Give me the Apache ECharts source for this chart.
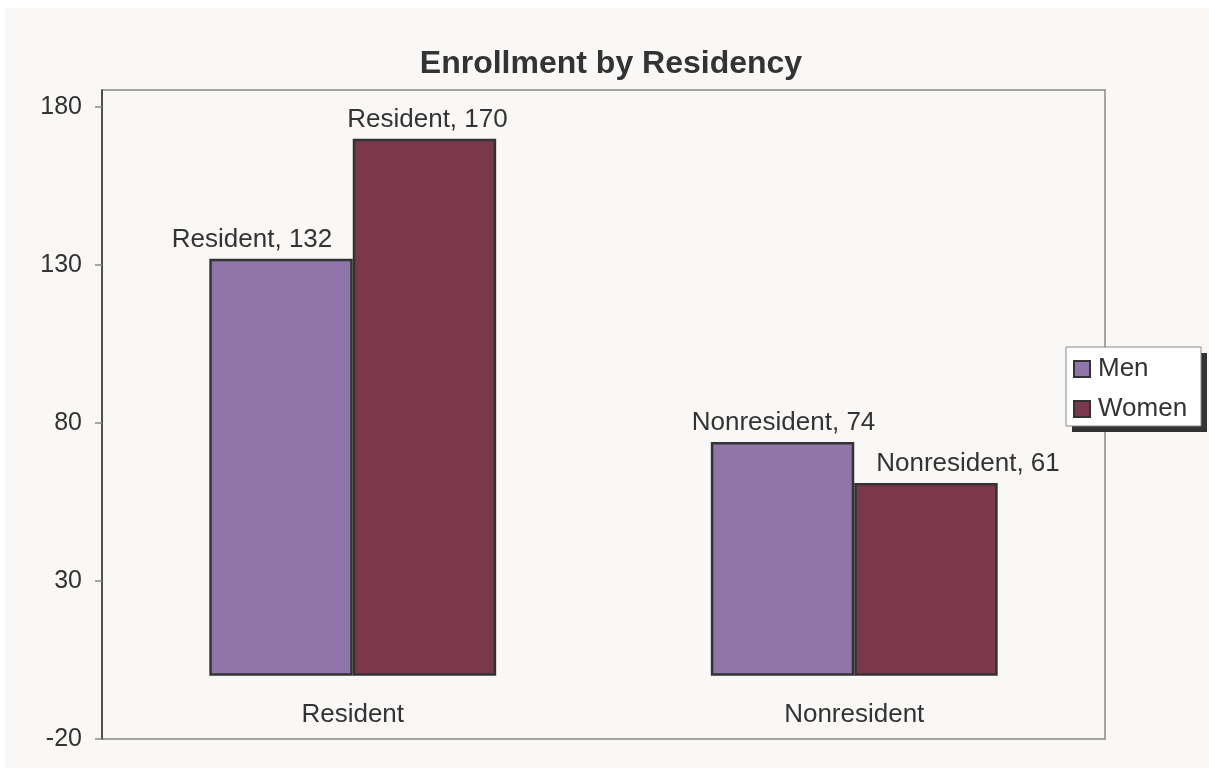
<!DOCTYPE html>
<html>
<head>
<meta charset="utf-8">
<script src="https://cdn.jsdelivr.net/npm/echarts@6/dist/echarts.min.js"></script>
<style>
html,body{margin:0;padding:0;background:#ffffff;}
#c{width:1209px;height:768px;}
</style>
</head>
<body>
<div id="c"></div>
<script>
const categories = ['Resident', 'Nonresident'];
const seriesNames = ['Men', 'Women'];
const menValues = [132, 74];
const womenValues = [170, 61];
const yTicks = [-20, 30, 80, 130, 180];

const labelOffsets = {
  Men: [[-29, 0], [1, 0]],
  Women: [[3, 0], [42, 0]]
};
const colors = { Men: '#9075a8', Women: '#7b374c' };
const FONT = "'Liberation Sans', Arial, sans-serif";

function buildData(name, values) {
  return values.map((v, i) => ({
    value: v,
    label: { offset: labelOffsets[name][i] }
  }));
}

const chart = echarts.init(document.getElementById('c'));
chart.setOption({
  backgroundColor: '#ffffff',
  animation: false,
  graphic: [
    { type: 'rect', z: -10, silent: true, shape: { x: 5, y: 8, width: 1204, height: 760 }, style: { fill: '#f9f8f6' } },
    { type: 'rect', z: 10, silent: true, shape: { x: 1072, y: 353, width: 135, height: 79 }, style: { fill: '#333333' } },
    { type: 'rect', z: 11, silent: true, shape: { x: 1066, y: 347, width: 135, height: 79 }, style: { fill: '#ffffff', stroke: '#888888', lineWidth: 1 } }
  ],
  title: {
    text: 'Enrollment by Residency',
    left: 606,
    textAlign: 'center',
    top: 43,
    textStyle: { fontFamily: FONT, fontSize: 32, fontWeight: 'bold', color: '#333333' }
  },
  legend: {
    data: seriesNames,
    orient: 'vertical',
    left: 1066,
    top: 347,
    z: 20,
    padding: [9, 10, 6, 7],
    itemGap: 14,
    itemWidth: 16,
    itemHeight: 16,
    itemStyle: { borderColor: '#333333', borderWidth: 2 },
    textStyle: { fontFamily: FONT, fontSize: 26, lineHeight: 26, color: '#333333', padding: [0, 0, 0, 3] },
    icon: 'rect'
  },
  grid: {
    left: 102, right: 104, top: 90, bottom: 29,
    show: true, borderColor: '#888888', borderWidth: 1.5, backgroundColor: 'transparent'
  },
  xAxis: {
    type: 'category',
    data: categories,
    axisLine: { show: false },
    axisTick: { show: false },
    axisLabel: { fontFamily: FONT, fontSize: 26, color: '#333333', margin: -37 }
  },
  yAxis: {
    type: 'value',
    min: yTicks[0],
    max: 185.4,
    interval: 50,
    splitLine: { show: false },
    axisLine: { show: true, lineStyle: { color: '#333333', width: 1.5 } },
    axisTick: { show: true, length: 7, lineStyle: { color: '#888888', width: 1.5 } },
    axisLabel: { showMaxLabel: false, fontFamily: FONT, fontSize: 25, color: '#333333', margin: 20 }
  },
  series: [
    {
      name: 'Men', type: 'bar',
      data: buildData('Men', menValues),
      barGap: '0%', barCategoryGap: '42.8%',
      itemStyle: { color: colors.Men, borderColor: '#333333', borderWidth: 2.5 },
      label: { show: true, position: 'top', distance: 6, formatter: '{b}, {c}', fontFamily: FONT, fontSize: 26, color: '#333333' }
    },
    {
      name: 'Women', type: 'bar',
      data: buildData('Women', womenValues),
      barGap: '0%', barCategoryGap: '42.8%',
      itemStyle: { color: colors.Women, borderColor: '#333333', borderWidth: 2.5 },
      label: { show: true, position: 'top', distance: 6, formatter: '{b}, {c}', fontFamily: FONT, fontSize: 26, color: '#333333' }
    }
  ]
});
</script>
</body>
</html>
